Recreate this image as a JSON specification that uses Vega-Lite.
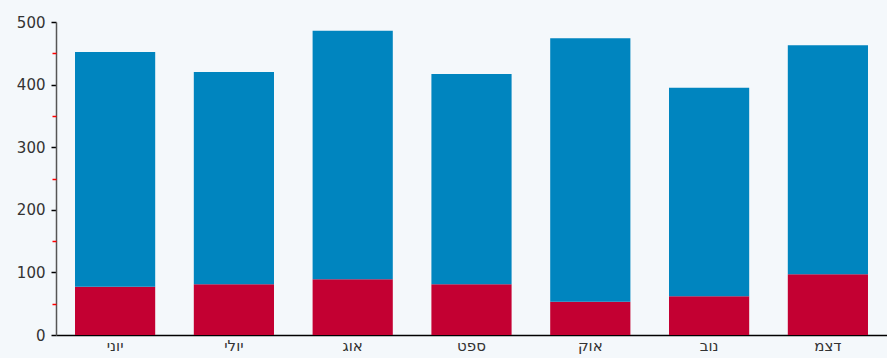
{
  "$schema": "https://vega.github.io/schema/vega-lite/v6.json",
  "width": 831,
  "height": 313,
  "autosize": {"type": "none"},
  "padding": {"left": 56, "top": 22, "right": 0, "bottom": 23},
  "background": "#f4f8fb",
  "config": {"view": {"stroke": null, "fill": null}, "font": "DejaVu Sans"},
  "data": {
    "values": [
      {"month": "יוני", "order": 1, "series": "a", "value": 77},
      {"month": "יוני", "order": 1, "series": "b", "value": 375},
      {"month": "יולי", "order": 2, "series": "a", "value": 81},
      {"month": "יולי", "order": 2, "series": "b", "value": 339},
      {"month": "אוג", "order": 3, "series": "a", "value": 89},
      {"month": "אוג", "order": 3, "series": "b", "value": 397},
      {"month": "ספט", "order": 4, "series": "a", "value": 81},
      {"month": "ספט", "order": 4, "series": "b", "value": 336},
      {"month": "אוק", "order": 5, "series": "a", "value": 53},
      {"month": "אוק", "order": 5, "series": "b", "value": 421},
      {"month": "נוב", "order": 6, "series": "a", "value": 62},
      {"month": "נוב", "order": 6, "series": "b", "value": 333},
      {"month": "דצמ", "order": 7, "series": "a", "value": 97},
      {"month": "דצמ", "order": 7, "series": "b", "value": 366}
    ]
  },
  "encoding": {
    "x": {
      "field": "month",
      "type": "nominal",
      "sort": {"field": "order"},
      "scale": {"paddingInner": 0.325, "paddingOuter": 0.16},
      "axis": {
        "title": null,
        "labelAngle": 0,
        "labelFontSize": 15,
        "labelColor": "#333",
        "ticks": false,
        "labelPadding": 3,
        "domainColor": "#000",
        "domainWidth": 1.5
      }
    }
  },
  "layer": [
    {
      "mark": {"type": "bar"},
      "encoding": {
        "y": {
          "field": "value",
          "type": "quantitative",
          "stack": "zero",
          "scale": {"domain": [0, 500], "nice": false},
          "axis": {
            "title": null,
            "grid": false,
            "orient": "left",
            "values": [0, 100, 200, 300, 400, 500],
            "labelFontSize": 15,
            "labelColor": "#333",
            "labelPadding": 6,
            "tickSize": 5,
            "tickWidth": 1.5,
            "tickColor": "#000",
            "domainColor": "#555",
            "domainWidth": 1.5
          }
        },
        "color": {
          "field": "series",
          "type": "nominal",
          "scale": {"domain": ["a", "b"], "range": ["#c30032", "#0085bf"]},
          "legend": null
        },
        "order": {"field": "series", "sort": "ascending"}
      }
    },
    {
      "mark": {"type": "bar", "opacity": 0},
      "encoding": {
        "y": {
          "field": "value",
          "type": "quantitative",
          "stack": "zero",
          "scale": {"domain": [0, 500], "nice": false},
          "axis": {
            "title": null,
            "grid": false,
            "orient": "left",
            "values": [50, 150, 250, 350, 450],
            "labels": false,
            "domain": false,
            "tickSize": 4,
            "tickWidth": 1.5,
            "tickColor": "#ff0000"
          }
        }
      }
    }
  ],
  "resolve": {"axis": {"y": "independent"}}
}
